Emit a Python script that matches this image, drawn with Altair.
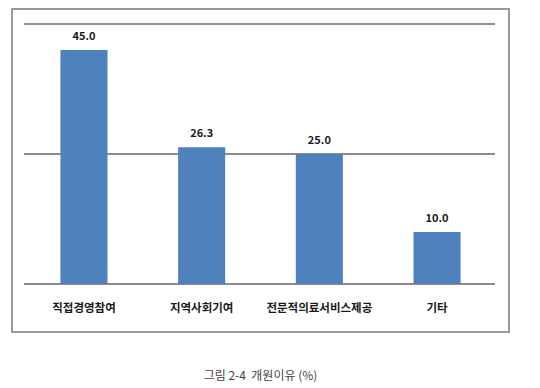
import altair as alt
import pandas as pd

categories = ["직접경영참여", "지역사회기여", "전문적의료서비스제공", "기타"]
values = [45.0, 26.3, 25.0, 10.0]
grid_values = [0, 25, 50]
caption = "그림 2-4\u00a0\u00a0개원이유 (%)"

df = pd.DataFrame({"cat": categories, "val": values})
df["label"] = [f"{v:.1f}" for v in values]
grid_df = pd.DataFrame({"g": grid_values})

FONT = "Noto Sans CJK KR"

yscale = alt.Scale(domain=[-9.42, 53.08], nice=False, zero=False)
xscale = alt.Scale(domain=categories, paddingInner=0.6, paddingOuter=0.42)

frame = alt.Chart(pd.DataFrame({"a": [0]})).mark_rect(
    fill=None, stroke="#9a9a9a", strokeWidth=2
).encode(x=alt.value(1), x2=alt.value(498), y=alt.value(1), y2=alt.value(324))

grid = alt.Chart(grid_df).mark_rule(color="#8c8c8c", strokeWidth=2).encode(
    y=alt.Y("g:Q", scale=yscale, axis=None),
    x=alt.value(13),
    x2=alt.value(484),
)

bars = alt.Chart(df).mark_bar(color="#4F81BD").encode(
    x=alt.X("cat:N", scale=xscale, axis=None),
    y=alt.Y("val:Q", scale=yscale, axis=None),
    y2=alt.datum(0),
)

labels = alt.Chart(df).mark_text(
    baseline="bottom", dy=-8, font=FONT, fontSize=11, fontWeight="bold", color="#1a1a1a"
).encode(
    x=alt.X("cat:N", scale=xscale, axis=None),
    y=alt.Y("val:Q", scale=yscale, axis=None),
    text="label:N",
)

cats = alt.Chart(df).mark_text(
    baseline="middle", font=FONT, fontSize=11.5, fontWeight="bold", color="#1a1a1a"
).encode(
    x=alt.X("cat:N", scale=xscale, axis=None),
    y=alt.value(301),
    text="cat:N",
)

chart = alt.layer(frame, grid, bars, labels, cats).properties(
    width=499,
    height=325,
    padding={"left": 3, "top": 0, "right": 0, "bottom": 0},
    title=alt.TitleParams(
        caption, orient="bottom", anchor="middle", offset=38,
        font=FONT, fontSize=12, fontWeight="normal", color="#444444",
    ),
).configure_view(stroke=None)

chart.save("out.html", embed_options={"renderer": "svg", "actions": False})
